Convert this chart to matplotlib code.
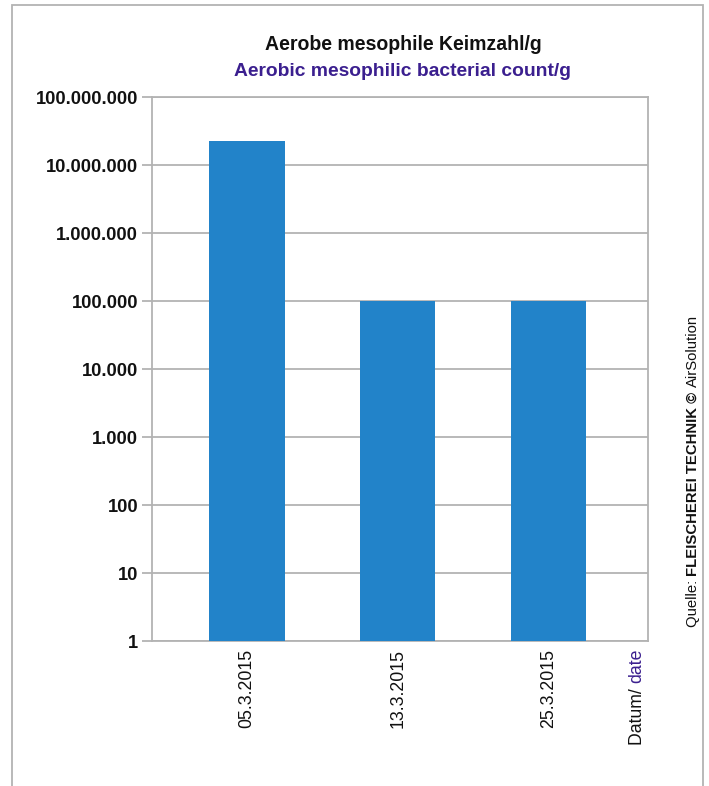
import matplotlib
matplotlib.use("Agg")
import matplotlib.pyplot as plt
from matplotlib.patches import Rectangle
from matplotlib.ticker import FixedLocator, NullLocator
import numpy as np

# ---- data ----
dates = ["05.3.2015", "13.3.2015", "25.3.2015"]
counts = [2.25e7, 1.0e5, 1.0e5]
ytick_values = [1, 10, 100, 1000, 10000, 100000, 1000000, 10000000, 100000000]
ytick_labels = ["1", "10", "100", "1.000", "10.000", "100.000", "1.000.000",
                "10.000.000", "100.000.000"]

title_de = "Aerobe mesophile Keimzahl/g"
title_en = "Aerobic mesophilic bacterial count/g"
xlabel_parts = ["Datum/ ", "date"]
source_parts = ["Quelle: ", "FLEISCHEREI TECHNIK © ", "AirSolution"]

FONT = ["Liberation Sans", "DejaVu Sans"]
GRID = "#b3b3b3"
BAR = "#2283c9"
PURPLE = "#3b1f8f"
INK = "#111111"

W, H = 709, 786
fig = plt.figure(figsize=(W / 100, H / 100), dpi=100)

def fx(px):
    return px / W

def fy(py):
    return 1 - py / H

# outer frame
fig.patches.append(Rectangle((fx(12), fy(800)), fx(703) - fx(12), fy(5) - fy(800),
                             transform=fig.transFigure, fill=False,
                             edgecolor=GRID, linewidth=1.3))

ax = fig.add_axes([fx(152), fy(641), fx(648) - fx(152), fy(97) - fy(641)])
x = np.arange(len(dates))
ax.bar(x, counts, width=0.5, bottom=1, color=BAR, zorder=3)
ax.set_yscale("log")
ax.set_ylim(1, 1e8)
ax.set_xlim(-0.63, 2.66)
ax.yaxis.set_major_locator(FixedLocator(ytick_values))
ax.yaxis.set_minor_locator(NullLocator())
ax.set_yticklabels(ytick_labels, fontfamily=FONT, fontsize=13.2, fontweight="bold",
                   color=INK)
ax.set_xticks(x)
ax.set_xticklabels(dates, rotation=90, fontfamily=FONT, fontsize=12.8, color=INK)
ax.tick_params(axis="y", length=7, width=1.3, color=GRID, pad=3)
ax.tick_params(axis="x", length=0, pad=6)
ax.grid(axis="y", color=GRID, linewidth=1.3, zorder=0)
for s in ax.spines.values():
    s.set_color(GRID)
    s.set_linewidth(1.3)

renderer = fig.canvas.get_renderer()

def fitted_text(xc, yc, txt, target_w, base, **kw):
    t = fig.text(fx(xc), fy(yc), txt, ha="center", va="center", fontfamily=FONT,
                 fontsize=base, **kw)
    w = t.get_window_extent(renderer).width
    t.set_fontsize(base * target_w / w)
    return t

# titles
fitted_text(403, 45, title_de, 280, 15, fontweight="bold", color=INK)
fitted_text(403, 71, title_en, 340, 15, fontweight="bold", color=PURPLE)

def vertical_pieces(pieces, xc, ybottom, target_len, base):
    """Rotated text pieces bottom-to-top, scaled so the whole spans target_len px."""
    total = 0
    for txt, col, wt in pieces:
        t = fig.text(0, 0, txt, rotation=90, fontfamily=FONT, fontsize=base,
                     fontweight=wt)
        total += t.get_window_extent(renderer).height
        t.remove()
    size = base * target_len / total
    cur = ybottom
    for txt, col, wt in pieces:
        t = fig.text(fx(xc), fy(cur), txt, rotation=90, ha="center", va="bottom",
                     fontfamily=FONT, fontsize=size, fontweight=wt, color=col)
        cur -= t.get_window_extent(renderer).height

vertical_pieces([(xlabel_parts[0], INK, "normal"), (xlabel_parts[1], PURPLE, "normal")],
                637, 745, 96, 13)
vertical_pieces([(source_parts[0], INK, "normal"),
                 (source_parts[1], INK, "bold"),
                 (source_parts[2], INK, "normal")], 693, 627, 310, 12)

fig.savefig("out.png", dpi=100)
